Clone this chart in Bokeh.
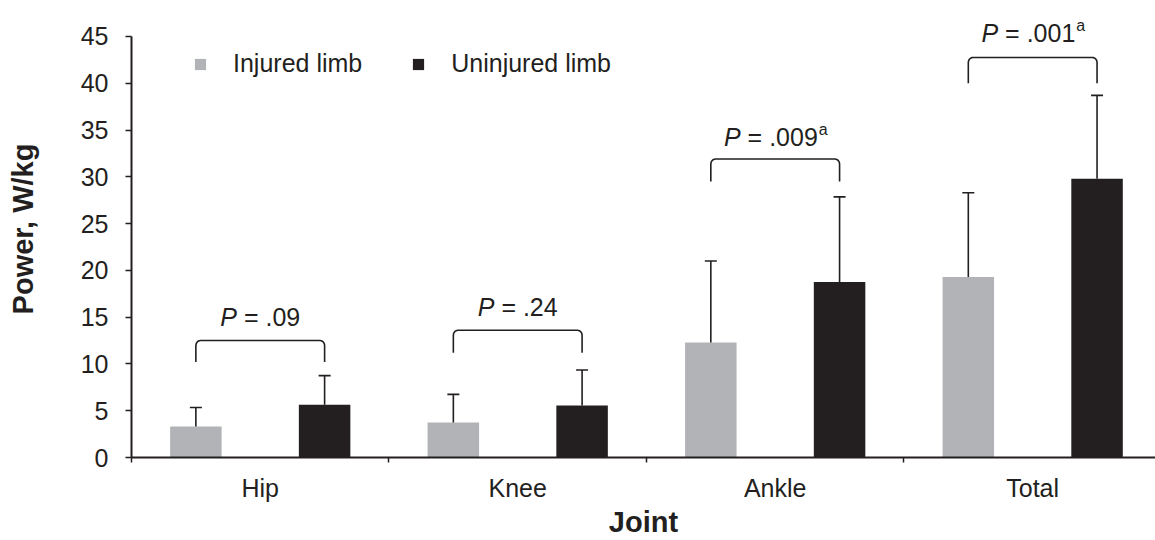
from bokeh.plotting import figure
from bokeh.models import (Range1d, FixedTicker, Legend, LegendItem, Whisker,
                          TeeHead, ColumnDataSource)
from bokeh.core.properties import value
from bokeh.embed import file_html
from bokeh.resources import INLINE
import math

# ---------------- data ----------------
categories = ["Hip", "Knee", "Ankle", "Total"]
injured = [3.3, 3.75, 12.3, 19.3]
injured_sd = [2.05, 3.0, 8.7, 9.0]
uninjured = [5.65, 5.55, 18.75, 29.8]
uninjured_sd = [3.1, 3.8, 9.1, 8.9]
p_values = [".09", ".24", ".009", ".001"]
p_marks = ["", "", "a", "a"]
bracket_low = [10.2, 11.2, 29.5, 40.0]
bracket_high = [12.5, 13.6, 31.9, 42.75]
label_y = [15.0, 16.1, 34.3, 45.4]
y_ticks = [0, 5, 10, 15, 20, 25, 30, 35, 40, 45]
x_title = "Joint"
y_title = "Power, W/kg"

# ---------------- style ----------------
FONT = "Liberation Sans"
INK = "#231f20"
GRAY = "#b1b3b6"
n = len(categories)
centers = [i + 0.5 for i in range(n)]
x_inj = [c - 0.25 for c in centers]
x_uni = [c + 0.25 for c in centers]

p = figure(width=1155, height=540, output_backend="svg", toolbar_location=None,
           x_range=Range1d(0, 3.977), y_range=Range1d(0, 48.84),
           min_border_left=131, min_border_right=0, min_border_top=0,
           min_border_bottom=82)
p.outline_line_color = None
p.xgrid.visible = False
p.ygrid.visible = False
p.background_fill_color = "white"

r_inj = p.vbar(x=x_inj, top=injured, width=0.2, fill_color=GRAY, line_color=None)
r_uni = p.vbar(x=x_uni, top=uninjured, width=0.2, fill_color=INK, line_color=None)

# error bars (upper only)
for xs, vals, sds in ((x_inj, injured, injured_sd), (x_uni, uninjured, uninjured_sd)):
    src = ColumnDataSource(dict(x=xs, lower=vals, upper=[v + s for v, s in zip(vals, sds)]))
    w = Whisker(source=src, base="x", lower="lower", upper="upper",
                line_color=INK, line_width=1.6,
                upper_head=TeeHead(size=12, line_color=INK, line_width=1.6),
                lower_head=None, level="glyph")
    p.add_layout(w)

# brackets with rounded corners
rx, ry = 0.018, 0.55
bx, by = [], []
for i in range(n):
    x1, x2 = x_inj[i], x_uni[i]
    lo, hi = bracket_low[i], bracket_high[i]
    xs = [x1]
    ys = [lo]
    for k in range(0, 7):
        a = math.pi - k * (math.pi / 2) / 6
        xs.append(x1 + rx + rx * math.cos(a))
        ys.append(hi - ry + ry * math.sin(a))
    for k in range(0, 7):
        a = math.pi / 2 - k * (math.pi / 2) / 6
        xs.append(x2 - rx + rx * math.cos(a))
        ys.append(hi - ry + ry * math.sin(a))
    xs.append(x2)
    ys.append(lo)
    bx.append(xs)
    by.append(ys)
p.multi_line(xs=bx, ys=by, line_color=INK, line_width=1.6)

# P-value labels
FS = 25
cw = {"=": 0.584, " ": 0.278, ".": 0.278, "a": 0.556}
def w_of(s):
    return sum(cw.get(c, 0.556) for c in s) * FS
wP = 0.667 * FS
gap = 0.278 * FS
rest = ["= " + v for v in p_values]
totals = [wP + gap + w_of(r) + (w_of(m) * 0.62 if m else 0) for r, m in zip(rest, p_marks)]
p_x = [x_inj[i] / 2 + x_uni[i] / 2 for i in range(n)]
p.text(x=p_x, y=label_y, text=["P"] * n, x_offset=[-t / 2 for t in totals],
       text_font=value(FONT), text_font_style="italic", text_font_size=f"{FS}px",
       text_color=INK, text_align="left", text_baseline="alphabetic")
p.text(x=p_x, y=label_y, text=rest, x_offset=[-t / 2 + wP + gap for t in totals],
       text_font=value(FONT), text_font_size=f"{FS}px",
       text_color=INK, text_align="left", text_baseline="alphabetic")
p.text(x=p_x, y=label_y, text=p_marks,
       x_offset=[-t / 2 + wP + gap + w_of(r) + 1 for t, r in zip(totals, rest)],
       y_offset=-7,
       text_font=value(FONT), text_font_size="16px",
       text_color=INK, text_align="left", text_baseline="alphabetic")

# axes
xa = p.xaxis[0]
xa.ticker = FixedTicker(ticks=centers, minor_ticks=list(range(n)))
xa.major_label_overrides = {c: lab for c, lab in zip(centers, categories)}
xa.axis_line_color = INK
xa.axis_line_width = 2
xa.major_tick_line_color = None
xa.major_tick_out = 0
xa.major_tick_in = 0
xa.minor_tick_line_color = INK
xa.minor_tick_line_width = 1.5
xa.minor_tick_out = 5
xa.minor_tick_in = 0
xa.major_label_standoff = 11
xa.major_label_text_font = FONT
xa.major_label_text_font_size = "25px"
xa.major_label_text_color = INK
xa.axis_label = x_title
xa.axis_label_text_font = FONT
xa.axis_label_text_font_style = "bold"
xa.axis_label_text_font_size = "29px"
xa.axis_label_text_color = INK
xa.axis_label_standoff = 1

ya = p.yaxis[0]
ya.ticker = FixedTicker(ticks=y_ticks)
ya.minor_tick_line_color = None
ya.bounds = (y_ticks[0], y_ticks[-1])
ya.axis_line_color = INK
ya.axis_line_width = 2
ya.major_tick_line_color = INK
ya.major_tick_line_width = 1.5
ya.major_tick_out = 6
ya.major_tick_in = 0
ya.major_label_standoff = 17
ya.major_label_text_font = FONT
ya.major_label_text_font_size = "25px"
ya.major_label_text_color = INK
ya.axis_label = y_title
ya.axis_label_text_font = FONT
ya.axis_label_text_font_style = "bold"
ya.axis_label_text_font_size = "29px"
ya.axis_label_text_color = INK
ya.axis_label_standoff = 39

legend = Legend(items=[LegendItem(label="Injured limb", renderers=[r_inj]),
                       LegendItem(label="Uninjured limb", renderers=[r_uni])],
                orientation="horizontal", location=(62, 379),
                glyph_width=14, glyph_height=14, label_standoff=26, spacing=49,
                padding=0, margin=0, border_line_color=None,
                background_fill_alpha=0,
                label_text_font=FONT, label_text_font_size="25px",
                label_text_color=INK)
p.add_layout(legend)

open("out.html", "w").write(file_html(p, INLINE))
